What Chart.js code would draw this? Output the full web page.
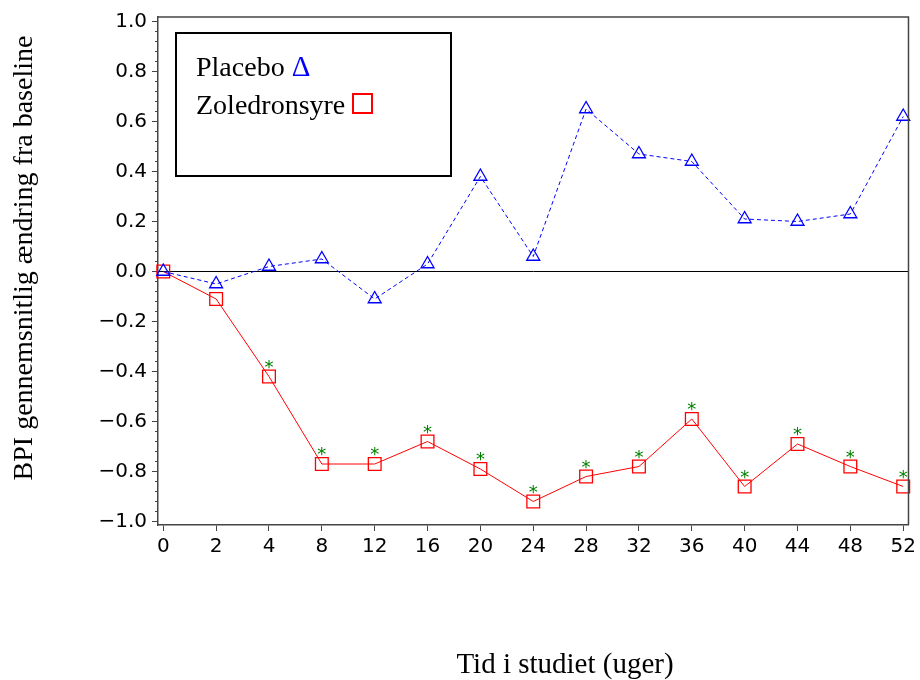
<!DOCTYPE html>
<html>
<head>
<meta charset="utf-8">
<script src="https://cdn.jsdelivr.net/npm/chart.js@4.4.1/dist/chart.umd.min.js"></script>
<style>
  body { margin: 0; background: #fff; }
  #wrap { position: relative; width: 920px; height: 680px; }
  #legendBox {
    position: absolute; left: 175px; top: 32px; width: 277px; height: 145px;
    box-sizing: border-box; border: 2px solid #000;
    font-family: 'Liberation Serif', serif; font-size: 28px; line-height: 38px;
    padding: 13px 0 0 19px; color: #000;
  }
  .tri { color: #0000ff; font-size: 29px; }
  .sq { display: inline-block; width: 17px; height: 17px; border: 2px solid #ff0000; vertical-align: baseline; }
</style>
</head>
<body>
<div id="wrap">
  <canvas id="chart" width="920" height="680"></canvas>
  <div id="legendBox">
    <div>Placebo <span class="tri">Δ</span></div>
    <div>Zoledronsyre <span class="sq"></span></div>
  </div>
</div>
<script>
const weeks = ['0', '2', '4', '8', '12', '16', '20', '24', '28', '32', '36', '40', '44', '48', '52'];
const placebo = [0.00, -0.05, 0.02, 0.05, -0.11, 0.03, 0.38, 0.06, 0.65, 0.47, 0.44, 0.21, 0.20, 0.23, 0.62];
const zoledronsyre = [0.00, -0.11, -0.42, -0.77, -0.77, -0.68, -0.79, -0.92, -0.82, -0.78, -0.59, -0.86, -0.69, -0.78, -0.86];
// green * above a point = significant vs placebo
const significant = [false, false, true, true, true, true, true, true, true, true, true, true, true, true, true];
const yTicks = [-1.0, -0.8, -0.6, -0.4, -0.2, 0.0, 0.2, 0.4, 0.6, 0.8, 1.0];

const tickFont = { family: 'DejaVu Sans', size: 20 };
const axisGrey = '#444';

// 4 minor ticks between each pair of labelled ticks
const minorTicks = [];
for (let i = 0; i < yTicks.length - 1; i++) {
    const step = (yTicks[i + 1] - yTicks[i]) / 5;
    for (let k = 1; k < 5; k++) minorTicks.push(yTicks[i] + k * step);
}

const fmtY = v => (v < 0 ? '\u2212' : '') + Math.abs(v).toFixed(1);

const frame = {
    id: 'frame',
    afterDraw(chart) {
        const { ctx, chartArea: a } = chart;
        ctx.save();
        ctx.strokeStyle = axisGrey;
        ctx.lineWidth = 1.5;
        ctx.beginPath();
        ctx.moveTo(a.left, a.top);
        ctx.lineTo(a.right, a.top);
        ctx.lineTo(a.right, a.bottom);
        ctx.stroke();
        ctx.restore();
    }
};

const stars = {
    id: 'stars',
    afterDatasetsDraw(chart) {
        const ctx = chart.ctx;
        const meta = chart.getDatasetMeta(1);
        ctx.save();
        ctx.fillStyle = '#008000';
        ctx.font = '18px "DejaVu Sans"';
        ctx.textAlign = 'center';
        ctx.textBaseline = 'alphabetic';
        meta.data.forEach((pt, i) => {
            if (significant[i]) ctx.fillText('*', pt.x, pt.y - 4);
        });
        ctx.restore();
    }
};

const axisTitles = {
    id: 'axisTitles',
    afterDraw(chart) {
        const ctx = chart.ctx;
        ctx.save();
        ctx.fillStyle = '#000';
        ctx.textAlign = 'center';
        ctx.textBaseline = 'alphabetic';
        ctx.font = '29px "Liberation Serif"';
        ctx.fillText('Tid i studiet (uger)', 565, 673);
        ctx.font = '28px "Liberation Serif"';
        ctx.translate(32, 258);
        ctx.rotate(-Math.PI / 2);
        ctx.fillText('BPI gennemsnitlig ændring fra baseline', 0, 0);
        ctx.restore();
    }
};

new Chart(document.getElementById('chart'), {
    type: 'line',
    data: {
        datasets: [
            {
                label: 'Placebo',
                data: placebo.map((v, i) => ({ x: i, y: v })),
                borderColor: '#0000ff',
                borderWidth: 1,
                borderDash: [4, 3],
                tension: 0,
                pointStyle: 'triangle',
                pointRadius: 7.5,
                pointBorderWidth: 1.3,
                pointBorderColor: '#0000ff',
                pointBackgroundColor: 'rgba(0,0,0,0)',
                clip: false
            },
            {
                label: 'Zoledronsyre',
                data: zoledronsyre.map((v, i) => ({ x: i, y: v })),
                borderColor: '#ff0000',
                borderWidth: 1,
                tension: 0,
                pointStyle: 'rect',
                pointRadius: 9,
                pointBorderWidth: 1.3,
                pointBorderColor: '#ff0000',
                pointBackgroundColor: 'rgba(0,0,0,0)',
                clip: false
            }
        ]
    },
    options: {
        responsive: false,
        animation: false,
        layout: { padding: { left: 0, top: 13, right: 10, bottom: 115 } },
        plugins: { legend: { display: false }, tooltip: { enabled: false } },
        scales: {
            x: {
                type: 'linear',
                min: -0.1,
                max: 14.1,
                afterBuildTicks: s => { s.ticks = weeks.map((w, i) => ({ value: i })); },
                afterFit: s => { s.height = 40; },
                ticks: {
                    callback: (v, i) => weeks[i],
                    font: tickFont,
                    color: '#000',
                    padding: 4,
                    maxRotation: 0,
                    autoSkip: false
                },
                grid: { drawOnChartArea: false, tickLength: 6, tickColor: axisGrey },
                border: { color: axisGrey, width: 1.5 }
            },
            y: {
                type: 'linear',
                position: 'left',
                weight: 1,
                min: -1.014,
                max: 1.018,
                afterBuildTicks: s => { s.ticks = yTicks.map(v => ({ value: v })); },
                afterFit: s => { s.width = 158; },
                ticks: { callback: v => fmtY(v), font: tickFont, color: '#000', padding: 5 },
                grid: {
                    color: c => (c.tick && c.tick.value === 0 ? '#000' : 'rgba(0,0,0,0)'),
                    tickColor: axisGrey,
                    tickLength: 6,
                    lineWidth: 1
                },
                border: { color: axisGrey, width: 1.5 }
            },
            yMinor: {
                type: 'linear',
                position: 'left',
                weight: 0,
                min: -1.014,
                max: 1.018,
                afterBuildTicks: s => { s.ticks = minorTicks.map(v => ({ value: v })); },
                afterFit: s => { s.width = 0; },
                ticks: { display: false },
                grid: { drawOnChartArea: false, tickLength: 3, tickColor: axisGrey },
                border: { display: false }
            }
        }
    },
    plugins: [frame, stars, axisTitles]
});
</script>
</body>
</html>
